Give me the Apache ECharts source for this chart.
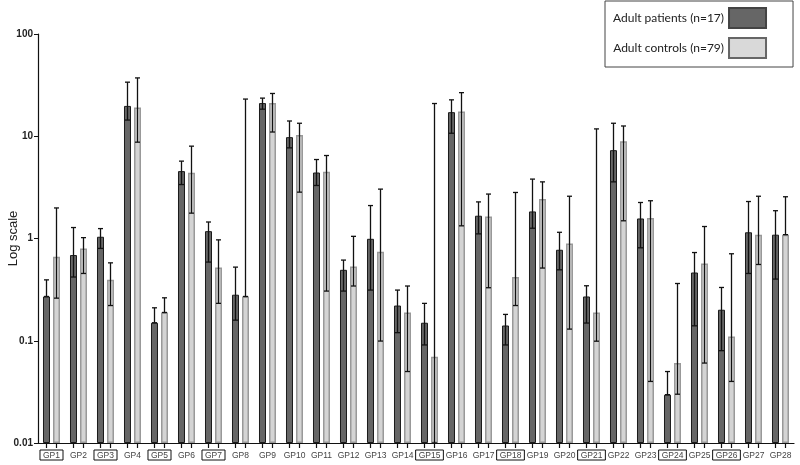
<!DOCTYPE html>
<html><head><meta charset="utf-8">
<script src="https://cdn.jsdelivr.net/npm/echarts@6/dist/echarts.min.js"></script>
<style>html,body{margin:0;padding:0;background:#fff}#c{width:800px;height:465px}</style>
</head><body><div id="c"></div>
<script>
const categories = ['GP1','GP2','GP3','GP4','GP5','GP6','GP7','GP8','GP9','GP10','GP11','GP12','GP13','GP14','GP15','GP16','GP17','GP18','GP19','GP20','GP21','GP22','GP23','GP24','GP25','GP26','GP27','GP28'];
const boxedLabels = ['GP1','GP3','GP5','GP7','GP15','GP18','GP21','GP24','GP26'];
const yTicks = [0.01, 0.1, 1, 10, 100];

const patients     = [0.271,0.689,1.04,19.8,0.150,4.56,1.18,0.282,21.1,9.8,4.42,0.494,0.993,0.221,0.150,17.2,1.67,0.141,1.84,0.776,0.271,7.31,1.57,0.0297,0.465,0.201,1.15,1.09];
const patientsLow  = [0.271,0.42,0.80,14.4,0.150,3.37,0.588,0.159,18.4,7.7,3.30,0.306,0.313,0.120,0.091,10.7,1.11,0.091,1.26,0.494,0.149,3.58,0.811,0.0297,0.140,0.080,0.455,0.401];
const patientsHigh = [0.394,1.28,1.25,33.8,0.210,5.71,1.45,0.525,23.6,14.1,5.92,0.615,2.10,0.313,0.232,22.7,2.28,0.181,3.81,1.15,0.345,13.4,2.25,0.050,0.729,0.332,2.30,1.87];

const controls     = [0.662,0.80,0.394,19.1,0.189,4.39,0.521,0.271,21.1,10.3,4.49,0.532,0.741,0.189,0.0698,17.5,1.64,0.42,2.44,0.893,0.189,8.95,1.59,0.0605,0.570,0.110,1.09,1.09];
const controlsLow  = [0.261,0.455,0.221,8.75,0.189,1.77,0.232,0.271,11.0,2.84,0.306,0.343,0.0993,0.050,0.01,1.33,0.330,0.221,0.514,0.130,0.099,1.49,0.040,0.030,0.0605,0.040,0.557,1.09];
const controlsHigh = [1.99,1.02,0.578,37.2,0.263,8.0,0.97,23.1,26.2,13.4,6.48,1.05,3.04,0.343,20.9,26.7,2.72,2.82,3.58,2.59,11.8,12.6,2.34,0.363,1.31,0.709,2.59,2.56];

const BAR_W = 7, OFFSET = 5;

function errData(lo, hi) { return categories.map((c, i) => [i, lo[i], hi[i]]); }
function errRender(offset) {
  return function (params, api) {
    const i = api.value(0);
    const pLo = api.coord([i, api.value(1)]);
    const pHi = api.coord([i, api.value(2)]);
    const pBase = api.coord([i, yTicks[0]]);
    const x = pLo[0] + offset;
    const cap = 2.5;
    const st = { stroke: '#111', lineWidth: 1.3 };
    return { type: 'group', children: [
      { type: 'line', shape: { x1: x, y1: pLo[1], x2: x, y2: pHi[1] }, style: st },
      { type: 'line', shape: { x1: x - cap, y1: pHi[1], x2: x + cap, y2: pHi[1] }, style: st },
      { type: 'line', shape: { x1: x - cap, y1: pLo[1], x2: x + cap, y2: pLo[1] }, style: st },
      { type: 'line', shape: { x1: x, y1: pBase[1], x2: x, y2: pBase[1] + 5 }, style: { stroke: '#111', lineWidth: 1.2 } }
    ]};
  };
}

const chart = echarts.init(document.getElementById('c'), null, { renderer: 'canvas' });
chart.setOption({
  animation: false,
  backgroundColor: '#fff',
  grid: { left: 38, right: 6, top: 34, bottom: 22, containLabel: false, outerBoundsMode: 'none' },
  legend: {
    orient: 'vertical', left: 605, top: 1, align: 'right',
    padding: [6, 26, 8, 8], itemGap: 8, itemWidth: 37, itemHeight: 20, icon: 'rect',
    borderColor: '#444', borderWidth: 1,
    textStyle: { fontFamily: 'Lato', fontSize: 12, color: '#222' },
    data: [
      { name: 'Adult patients (n=17)', itemStyle: { color: '#666', borderColor: '#444', borderWidth: 2 } },
      { name: 'Adult controls (n=79)', itemStyle: { color: '#d9d9d9', borderColor: '#666', borderWidth: 2 } }
    ]
  },
  xAxis: {
    type: 'category', data: categories,
    axisLine: { lineStyle: { color: '#111', width: 1.2 } },
    axisTick: { show: false },
    axisLabel: {
      margin: 7, interval: 0,
      formatter: v => boxedLabels.indexOf(v) >= 0 ? '{b|' + v + '}' : '{n|' + v + '}',
      rich: {
        b: { fontFamily: 'Liberation Sans', fontSize: 8.5, color: '#444', borderColor: '#111', borderWidth: 1, padding: [1, 3, 0, 3] },
        n: { fontFamily: 'Liberation Sans', fontSize: 8.5, color: '#444', padding: [1, 0, 0, 0] }
      }
    }
  },
  yAxis: {
    type: 'log', logBase: 10, min: yTicks[0], max: yTicks[yTicks.length - 1], startValue: yTicks[0],
    name: 'Log scale', nameLocation: 'middle', nameGap: 18, nameMoveOverlap: false,
    nameTextStyle: { fontFamily: 'Liberation Sans', fontSize: 13, color: '#222' },
    axisLine: { show: true, lineStyle: { color: '#111', width: 1.2 } },
    axisTick: { show: true, length: 4, lineStyle: { color: '#111' } },
    axisLabel: { margin: 5, fontFamily: 'Liberation Sans', fontSize: 10, fontWeight: 'bold', color: '#222',
      formatter: v => String(+(+v).toPrecision(3)) },
    splitLine: { show: false }
  },
  series: [
    { name: 'Adult patients (n=17)', type: 'bar', data: patients, barWidth: BAR_W, barGap: '43%',
      itemStyle: { color: '#666', borderColor: '#1a1a1a', borderWidth: 1 } },
    { name: 'Adult controls (n=79)', type: 'bar', data: controls, barWidth: BAR_W,
      itemStyle: { color: '#d4d4d4', borderColor: '#999', borderWidth: 1.5 } },
    { type: 'custom', renderItem: errRender(-OFFSET), data: errData(patientsLow, patientsHigh), z: 10, silent: true, encode: { x: 0, y: [1, 2] } },
    { type: 'custom', renderItem: errRender(OFFSET), data: errData(controlsLow, controlsHigh), z: 10, silent: true, encode: { x: 0, y: [1, 2] } }
  ]
});
</script></body></html>
